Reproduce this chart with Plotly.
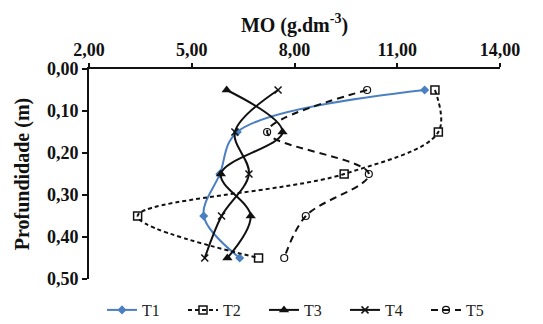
import plotly.graph_objects as go

depth = [0.05, 0.15, 0.25, 0.35, 0.45]
T1 = [11.80, 6.33, 5.82, 5.35, 6.40]
T2 = [12.10, 12.20, 9.45, 3.42, 6.95]
T3 = [6.02, 7.65, 5.85, 6.72, 6.04]
T4 = [7.52, 6.26, 6.67, 5.87, 5.38]
T5 = [10.12, 7.20, 10.17, 8.33, 7.70]

x_ticks = [2, 5, 8, 11, 14]
x_ticktext = ["2,00", "5,00", "8,00", "11,00", "14,00"]
y_ticks = [0.0, 0.1, 0.2, 0.3, 0.4, 0.5]
y_ticktext = ["0,00", "0,10", "0,20", "0,30", "0,40", "0,50"]

FONT = "Liberation Serif"
BLUE = "#4a7fc1"

series = [
    ("T1", T1, dict(color=BLUE, width=2, dash="solid"),
     dict(symbol="diamond", size=7, color=BLUE)),
    ("T2", T2, dict(color="#111111", width=2, dash="4px,3px"),
     dict(symbol="square-open", size=8, color="#111111", line=dict(width=1.5))),
    ("T3", T3, dict(color="#111111", width=2, dash="solid"),
     dict(symbol="triangle-up", size=9, color="#111111")),
    ("T4", T4, dict(color="#111111", width=2, dash="solid"),
     dict(symbol="x-thin-open", size=7, color="#111111", line=dict(width=1.5, color="#111111"))),
    ("T5", T5, dict(color="#111111", width=2, dash="7px,5px"),
     dict(symbol="circle-open", size=7, color="#111111", line=dict(width=1.2))),
]

fig = go.Figure()
for name, vals, line, marker in series:
    fig.add_trace(go.Scatter(
        x=vals, y=depth, name=name, mode="lines+markers",
        line=dict(shape="spline", smoothing=1.0, **line),
        marker=marker,
    ))

fig.update_layout(
    width=543, height=324,
    margin=dict(l=89, r=43, t=69, b=45, autoexpand=False),
    paper_bgcolor="white", plot_bgcolor="white",
    font=dict(family=FONT, color="#111111"),
    showlegend=True,
    legend=dict(
        orientation="h", xref="container", yref="container",
        x=102 / 543, xanchor="left", y=1 - 293 / 324, yanchor="top",
        font=dict(family=FONT, size=16, color="#222222"),
        entrywidth=36, entrywidthmode="pixels",
        itemwidth=30, tracegroupgap=0, bgcolor="rgba(0,0,0,0)",
    ),
)

fig.update_xaxes(
    side="top", range=[2, 14], tickvals=x_ticks, ticktext=x_ticktext,
    showgrid=False, zeroline=False,
    showline=True, linecolor="#111111", linewidth=2,
    ticks="outside", ticklen=4, tickwidth=2, tickcolor="#111111",
    tickfont=dict(family=FONT, size=18, weight="bold"),
    title=dict(text="MO (g.dm<sup>-3</sup>)", font=dict(family=FONT, size=20, weight="bold"), standoff=2),
)
fig.update_yaxes(
    range=[0.5, 0.0], tickvals=y_ticks, ticktext=y_ticktext,
    showgrid=False, zeroline=False,
    showline=True, linecolor="#111111", linewidth=2,
    ticks="outside", ticklen=5, tickwidth=2, tickcolor="#111111",
    tickfont=dict(family=FONT, size=18, weight="bold"),
    title=dict(text="Profundidade (m)", font=dict(family=FONT, size=20, weight="bold"), standoff=12),
)

fig.write_html("out.html")
